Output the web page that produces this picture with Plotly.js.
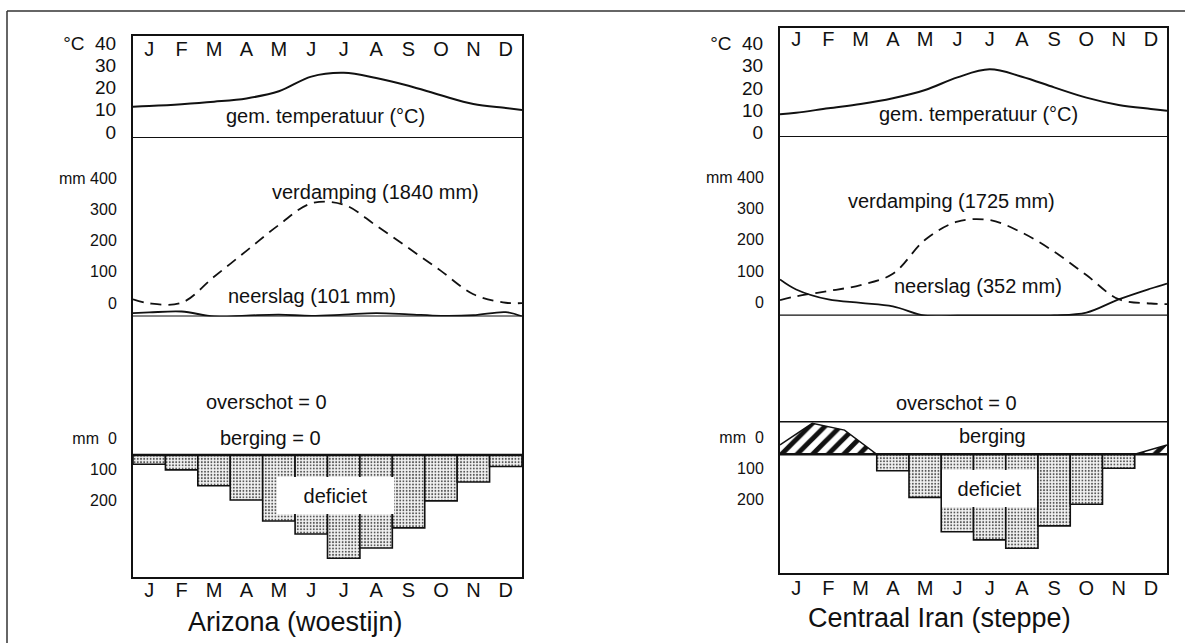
<!DOCTYPE html>
<html><head><meta charset="utf-8">
<script src="https://cdn.plot.ly/plotly-3.0.1.min.js"></script>
<style>html,body{margin:0;padding:0;background:#fff}#chart{width:1185px;height:643px}</style>
</head><body><div id="chart"></div>
<script>
// ---------- DATA ----------
const months = ['J','F','M','A','M','J','J','A','S','O','N','D'];
// Curves: first and last entries are the values at the panel edges (1 Jan / 31 Dec), the 12 in between are J..D.
const azTemp   = [14.1, 14.4, 15.2, 16.3, 17.8, 21.0, 27.6, 29.3, 27.0, 23.5, 19.2, 15.3, 13.5, 12.6];
const azEvap   = [55, 42, 44, 127, 210, 293, 362, 358, 291, 219, 146, 71, 44, 43];
const azPrecip = [11, 13, 16, 0, 3, 6, 2, 6, 11, 7, 2, 4, 14, 0];
const azDeficit = [30, 48, 99, 145, 213, 255, 333, 300, 235, 148, 87, 37];

const irTemp   = [10.2, 10.9, 12.9, 14.8, 17.4, 21.1, 26.8, 30.4, 27.1, 22.3, 17.7, 14.4, 12.6, 11.8];
const irEvap   = [50, 62, 79, 98, 134, 243, 301, 306, 266, 205, 130, 53, 39, 37];
const irPrecip = [116, 84, 52, 41, 30, 0, 0, 0, 0, 1, 10, 52, 87, 103];
const irDeficit = [0, 0, 0, 53, 139, 250, 276, 303, 231, 161, 45, 0];
// soil storage (berging) at the month boundaries: 1 Jan, 1 Feb, ..., 31 Dec
const irStorage = [30, 100, 78, 0, 0, 0, 0, 0, 0, 0, 0, 0, 30];
const irStorageCapacity = 105;

const tempTicks = [0, 10, 20, 30, 40];
const tempTickText = ['0', '10', '20', '30', '°C\u00a0\u00a040'];
const mmTicks = [0, 100, 200, 300, 400];
const mmTickText = ['0', '100', '200', '300', 'mm 400'];
const lowTicks = [0, -100, -200];
const lowTickText = ['mm\u00a0\u00a00', '100', '200'];

// ---------- LAYOUT HELPERS ----------
const W = 1185, H = 643;
const px = v => v / W, py = v => 1 - v / H;
const FONT = 'Liberation Sans, Arial, Helvetica, sans-serif';
const INK = '#111';
const monthX = months.map((m, i) => i + 1);
const curveX = [0.5].concat(monthX, [12.5]);
const boundaryX = irStorage.map((v, i) => i + 0.5);

const T_SCALE = 2.225;   // px per °C
const P_SCALE = 0.3125;  // px per mm (precip section)
const L_SCALE = 0.31;    // px per mm (lower section)

const traces = [], shapes = [], annotations = [];
const layout = {
  width: W, height: H, margin: {l: 0, r: 0, t: 0, b: 0},
  paper_bgcolor: '#fff', plot_bgcolor: 'rgba(0,0,0,0)', showlegend: false,
  font: {family: FONT, color: INK}, bargap: 0
};

function ann(text, x, y, size, extra) {
  annotations.push(Object.assign({
    text: text, xref: 'paper', yref: 'paper', x: px(x), y: py(y),
    xanchor: 'center', yanchor: 'middle', showarrow: false,
    font: {family: FONT, size: size, color: INK}
  }, extra || {}));
}

function panel(c) {
  const xd = [px(c.left), px(c.right)];
  const baseY = {showgrid: false, zeroline: false, showline: true, mirror: true,
    linecolor: INK, linewidth: 2, ticks: '', fixedrange: true, ticklabelstandoff: 11};
  layout[c.xb.replace('x', 'xaxis')] = {domain: xd, range: [0.5, 12.5], anchor: c.yL,
    tickvals: monthX, ticktext: months, ticks: '', showgrid: false, zeroline: false,
    showline: true, linecolor: INK, linewidth: 2, tickfont: {size: 20}, ticklabelstandoff: c.botStandoff};
  // top month row: drawn just under the top frame line
  layout[c.xt.replace('x', 'xaxis')] = {domain: xd, range: [0.5, 12.5], anchor: c.yT, side: 'top',
    tickvals: monthX, ticktext: months, ticks: '', showgrid: false,
    zeroline: false, showline: true, linecolor: INK, linewidth: 2, tickfont: {size: 20}, ticklabelstandoff: c.topStandoff};
  // tick labels sit a few px above the level they name, as in the original drawing
  layout[c.yT.replace('y', 'yaxis')] = Object.assign({}, baseY, {anchor: c.xt,
    domain: [py(c.tBot), py(c.tTop)], range: [0, (c.tBot - c.tTop) / T_SCALE],
    tickvals: tempTicks.map(v => v + c.tShift / T_SCALE), ticktext: tempTickText, tickfont: {size: 19}});
  layout[c.yP.replace('y', 'yaxis')] = Object.assign({}, baseY, {anchor: c.xb,
    domain: [py(c.pBot), py(c.tBot)], range: [0, (c.pBot - c.tBot) / P_SCALE],
    tickvals: mmTicks.map(v => v + 13.5 / P_SCALE), ticktext: mmTickText, tickfont: {size: 16}});
  layout[c.yL.replace('y', 'yaxis')] = Object.assign({}, baseY, {anchor: c.xb,
    domain: [py(c.lBot), py(c.pBot)], range: [-(c.lBot - c.lZero) / L_SCALE, (c.lZero - c.pBot) / L_SCALE],
    tickvals: lowTicks.map(v => v + 16.5 / L_SCALE), ticktext: lowTickText, tickfont: {size: 16}});

  // deficit bars
  traces.push({type: 'bar', x: monthX, y: c.deficit.map(v => -v), width: 1,
    xaxis: c.xb, yaxis: c.yL, hoverinfo: 'skip',
    marker: {color: '#efefef', line: {color: INK, width: 1.6},
      pattern: {shape: '.', size: 3.2, solidity: 0.28, fgcolor: '#555', bgcolor: '#f2f2f2'}}});
  if (c.storage) {
    traces.push({type: 'scatter', mode: 'lines', x: boundaryX, y: c.storage, fill: 'tozeroy',
      xaxis: c.xb, yaxis: c.yL, hoverinfo: 'skip', line: {color: INK, width: 1.5},
      fillcolor: '#fff',
      fillpattern: {shape: '/', size: 11, solidity: 0.45, fgcolor: INK, bgcolor: '#fff'}});
  }
  // evaporation & precipitation
  traces.push({type: 'scatter', mode: 'lines', x: curveX, y: c.evap, xaxis: c.xb, yaxis: c.yP,
    line: {color: INK, width: 1.8, dash: '11px,7px', shape: 'spline', smoothing: 1}, hoverinfo: 'skip'});
  traces.push({type: 'scatter', mode: 'lines', x: curveX, y: c.precip, xaxis: c.xb, yaxis: c.yP,
    line: {color: INK, width: 1.8, shape: 'spline', smoothing: 1}, hoverinfo: 'skip'});
  // temperature
  traces.push({type: 'scatter', mode: 'lines', x: curveX, y: c.temp, xaxis: c.xt, yaxis: c.yT,
    line: {color: INK, width: 2, shape: 'spline', smoothing: 1}, hoverinfo: 'skip'});

  const dom = c.xb + ' domain';
  shapes.push({type: 'line', xref: dom, x0: 0, x1: 1, yref: c.yT, y0: 0, y1: 0, line: {color: INK, width: 2}});
  shapes.push({type: 'line', xref: dom, x0: 0, x1: 1, yref: c.yP, y0: 0, y1: 0, line: {color: INK, width: 2.2}});
  shapes.push({type: 'line', xref: dom, x0: 0, x1: 1, yref: c.yL, y0: 0, y1: 0, line: {color: INK, width: 2.6}});
  if (c.capacity) {
    shapes.push({type: 'line', xref: dom, x0: 0, x1: 1, yref: c.yL, y0: c.capacity, y1: c.capacity,
      line: {color: INK, width: 1.6}});
  }
  c.labels.forEach(l => ann(l[0], l[1], l[2], l[3] || 20, l[4]));
}

panel({left: 133, right: 522, tTop: 36, tBot: 138, pBot: 316.5, lZero: 455, lBot: 576.5,
  tShift: 6, topStandoff: -30, botStandoff: -6,
  xb: 'x', xt: 'x2', yT: 'y', yP: 'y2', yL: 'y3',
  temp: azTemp, evap: azEvap, precip: azPrecip, deficit: azDeficit,
  labels: [
    ['gem. temperatuur (°C)', 325.5, 116],
    ['verdamping (1840 mm)', 375, 192],
    ['neerslag (101 mm)', 311.7, 295.5],
    ['overschot = 0', 266.7, 401.5],
    ['berging = 0', 270, 437.5],
    ['deficiet', 335.5, 495.7, 20, {bgcolor: '#fff', width: 117, height: 37, borderpad: 0, borderwidth: 0}],
    ['Arizona (woestijn)', 295, 622, 27]
  ]});

panel({left: 780, right: 1167, tTop: 28, tBot: 137, pBot: 315.7, lZero: 454.3, lBot: 573,
  tShift: 4.5, topStandoff: -28, botStandoff: -4,
  xb: 'x3', xt: 'x4', yT: 'y4', yP: 'y5', yL: 'y6',
  temp: irTemp, evap: irEvap, precip: irPrecip, deficit: irDeficit,
  storage: irStorage, capacity: irStorageCapacity,
  labels: [
    ['gem. temperatuur (°C)', 978, 114],
    ['verdamping (1725 mm)', 951.7, 200.5],
    ['neerslag (352 mm)', 977.5, 285.5],
    ['overschot = 0', 956.7, 402.5],
    ['berging', 992.7, 436],
    ['deficiet', 989.5, 488.5, 20, {bgcolor: '#fff', width: 95, height: 37, borderpad: 0, borderwidth: 0}],
    ['Centraal Iran (steppe)', 939, 617.5, 27]
  ]});

// outer frame (top and left edges of the figure frame)
shapes.push({type: 'line', xref: 'paper', yref: 'paper', x0: px(7), x1: 1.01, y0: py(11), y1: py(11), line: {color: '#333', width: 1.5}});
shapes.push({type: 'line', xref: 'paper', yref: 'paper', x0: px(7), x1: px(7), y0: py(11), y1: -0.01, line: {color: '#333', width: 1.5}});

layout.shapes = shapes;
layout.annotations = annotations;
Plotly.newPlot('chart', traces, layout, {staticPlot: true, displayModeBar: false});
</script></body></html>
